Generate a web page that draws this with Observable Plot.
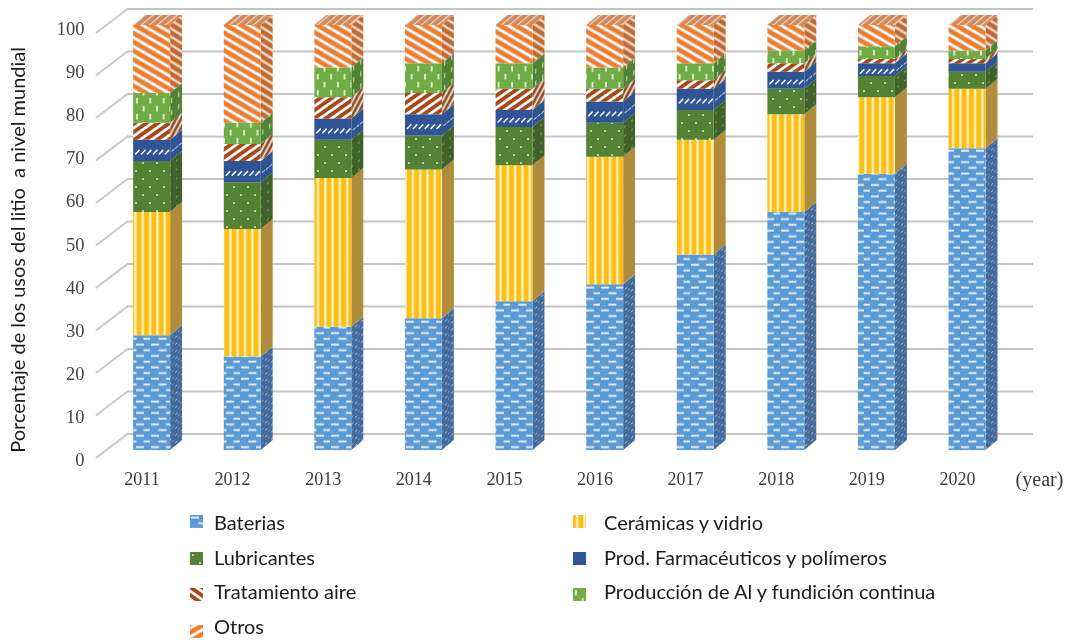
<!DOCTYPE html>
<html><head><meta charset="utf-8">
<style>
html,body{margin:0;padding:0;background:#fff;overflow:hidden}
#wrap{position:relative;width:1068px;height:643px}
#chart{position:absolute;left:0;top:0}
#chart svg{filter:blur(.5px);display:block}
.lg{position:absolute;font:20px Lato,"Open Sans",sans-serif;color:#1c1c1c;line-height:22px;white-space:nowrap;filter:blur(.25px)}
.lg svg{position:absolute}
</style>
<script src="https://cdn.jsdelivr.net/npm/d3@7"></script>
<script src="https://cdn.jsdelivr.net/npm/@observablehq/plot@0.6"></script>
</head><body><div id="wrap"><div id="chart"></div></div>
<script>
const years = [2011,2012,2013,2014,2015,2016,2017,2018,2019,2020];
const baterias     = [27,22,29,31,35,39,46,56,65,71];
const ceramicas    = [29,30,35,35,32,30,27,23,18,14];
const lubricantes  = [12,11, 9, 8, 9, 8, 7, 6, 5, 4];
const farmaceutico = [ 5, 5, 5, 5, 4, 5, 5, 4, 3, 2];
const tratamiento  = [ 4, 4, 5, 5, 5, 3, 2, 2, 1, 1];
const produccion   = [ 7, 5, 7, 7, 6, 5, 4, 3, 3, 2];
const otros        = [16,23,10, 9, 9,10, 9, 6, 5, 6];
const seriesNames = ["Baterias","Cerámicas y vidrio","Lubricantes","Prod. Farmacéuticos y polímeros","Tratamiento aire","Producción de Al y fundición continua","Otros"];
const seriesValues = [baterias,ceramicas,lubricantes,farmaceutico,tratamiento,produccion,otros];
const yTicks = [0,10,20,30,40,50,60,70,80,90,100];

const frontColors = ["#5b9bd5","#fbbf17","#548235","#2f5597","#a5491c","#70ad47","#ed7d31"];
const sideColors  = ["#41699a","#b08d3c","#3f6229","#2f5590","#8a4a22","#4f8233","#bf6a33"];

// Pattern tiles
const ink = "#ffffff";
const tiles = [
  (c)=>`<rect width="30" height="11.4" fill="${c}"/><g fill="${ink}" opacity=".85"><rect x="1" y="1.6" width="8" height="1.9"/><rect x="16" y="1.6" width="8" height="1.9"/><rect x="8.5" y="7.3" width="8" height="1.9"/><rect x="23.5" y="7.3" width="6.5" height="1.9"/></g>`,
  (c)=>`<rect width="7.3" height="10" fill="${c}"/><rect x="3" width="2.2" height="10" fill="#fff3c4"/>`,
  (c)=>`<rect width="14" height="16" fill="${c}"/><g fill="#dcebcd"><circle cx="3" cy="3" r="1.05"/><circle cx="10" cy="11" r="1.05"/></g>`,
  (c)=>`<rect width="8" height="8" fill="${c}"/>`,
  (c)=>`<rect width="8" height="6.6" fill="${c}"/><rect y="2" width="8" height="2.7" fill="${ink}"/>`,
  (c)=>`<rect width="13.4" height="16" fill="${c}"/><g fill="#e3f1d8"><rect x="2" y="2" width="1.8" height="5.5"/><rect x="8.7" y="10" width="1.8" height="5.5"/></g>`,
  (c)=>`<rect width="10" height="7.6" fill="${c}"/><rect y="2.4" width="10" height="2.8" fill="${ink}"/>`
];
const tileSizes = [[30,11.4],[7.3,10],[14,16],[8,8],[8,6.6],[13.4,16],[10,7.6]];
const frontTransforms = ["","","","","rotate(-35)","","rotate(30)"];
const sideTiles = [
  (c)=>`<rect width="6" height="7" fill="${c}"/><rect x="1" y="1" width="2.2" height="1.2" fill="#c9dcef" opacity=".75"/><rect x="4" y="4.5" width="1.6" height="1.2" fill="#c9dcef" opacity=".6"/>`,
  (c)=>`<rect width="6" height="6" fill="${c}"/>`,
  (c)=>`<rect width="7" height="9" fill="${c}"/><circle cx="2" cy="3" r=".75" fill="#a9c492"/>`,
  (c)=>`<rect width="6" height="6" fill="${c}"/>`,
  (c)=>`<rect width="6" height="4.4" fill="${c}"/><rect y="1.4" width="6" height="1.7" fill="#f5ece4"/>`,
  (c)=>`<rect width="7" height="12" fill="${c}"/><rect x="3" y="2" width="1.4" height="5" fill="#b9d4a5"/>`,
  (c)=>`<rect width="6" height="7" fill="${c}"/><rect y="2.4" width="6" height="2.2" fill="#f7e3d5"/>`
];
const sideSizes = [[6,7],[6,6],[7,9],[6,6],[6,4.4],[7,12],[6,7]];
const sideTransforms = ["skewY(-40)","skewY(-40)","skewY(-40)","skewY(-40)","rotate(-62)","skewY(-40)","rotate(32)"];

let defs = "";
seriesNames.forEach((_,i)=>{
  const [w,h]=tileSizes[i], [sw,sh]=sideSizes[i];
  defs += `<pattern id="f${i}" patternUnits="userSpaceOnUse" width="${w}" height="${h}" ${frontTransforms[i]?`patternTransform="${frontTransforms[i]}"`:""}>${tiles[i](frontColors[i])}</pattern>`;
  defs += `<pattern id="s${i}" patternUnits="userSpaceOnUse" width="${sw}" height="${sh}" patternTransform="${sideTransforms[i]}">${sideTiles[i](sideColors[i])}</pattern>`;
});
defs += `<pattern id="top" patternUnits="userSpaceOnUse" width="8" height="5" patternTransform="skewX(-50)"><rect width="8" height="5" fill="#cf8a5e"/><rect x="2" width="2.4" height="5" fill="#efc9ad"/></pattern>`;
const holder = document.createElementNS("http://www.w3.org/2000/svg","svg");
holder.setAttribute("style","position:absolute;width:0;height:0");
holder.innerHTML = `<defs>${defs}</defs>`;
document.body.appendChild(holder);

// Geometry in scale units: x in years, y in percent
const barLeft = -0.092, barW = 0.408, depthX = 0.132, depthY = 2.35;
const backY = 3.9, backX0 = 2011 - (141.5-127)/90.6, frontX0 = 2011 - (141.5-96)/90.6, frontY = -1.65, gridEnd = 2011 + (1033-141.5)/90.6;

const segments = [];
years.forEach((yr,j)=>{
  let c = 0;
  seriesValues.forEach((vals,i)=>{
    segments.push({year:yr, s:i, y0:c, y1:c+vals[j], x0:yr+barLeft, x1:yr+barLeft+barW});
    c += vals[j];
  });
});
const sidePts = segments.flatMap(d=>[
  {s:d.s,k:d.year,x:d.x1,a:d.y0,b:d.y1},
  {s:d.s,k:d.year,x:d.x1+depthX,a:d.y0+depthY,b:d.y1+depthY}
]);
const topPts = years.flatMap(yr=>[
  {k:yr,y:100,a:yr+barLeft,b:yr+barLeft+barW},
  {k:yr,y:100+depthY,a:yr+barLeft+depthX,b:yr+barLeft+barW+depthX}
]);
const diag = yTicks.flatMap(v=>[{k:v,x:frontX0,y:v+frontY},{k:v,x:backX0,y:v+backY}]);
// the row of small slanted dashes in each Farmacéuticos block (none in the thinnest block)
const slots = [0.1,0.26,0.42,0.58,0.74,0.9];
const farmBlocks = segments.filter(d=>d.s===3 && d.y1-d.y0>=3);
const farmDashes = farmBlocks.flatMap(d=>slots.map(t=>({x:d.x0+t*barW,y:(d.y0+d.y1)/2-0.3})));
const farmSide = farmBlocks.flatMap(d=>[0.2,0.5,0.8].map(t=>({x:d.x1+t*depthX,y:(d.y0+d.y1)/2+t*depthY-0.3})));

const marks = [];
marks.push(Plot.ruleY(yTicks,{y:d=>d+backY,x1:backX0,x2:gridEnd,stroke:"#c4c4c4",strokeWidth:2}));
marks.push(Plot.line(diag,{x:"x",y:"y",z:"k",stroke:"#c8c8c8",strokeWidth:2}));
seriesNames.forEach((_,i)=>{
  marks.push(Plot.areaY(sidePts.filter(d=>d.s===i),{x:"x",y1:"a",y2:"b",z:"k",fill:`url(#s${i})`}));
  marks.push(Plot.rect(segments.filter(d=>d.s===i),{x1:"x0",x2:"x1",y1:"y0",y2:"y1",fill:`url(#f${i})`}));
});
marks.push(Plot.vector(farmDashes,{x:"x",y:"y",length:5,rotate:45,anchor:"middle",shape:{draw(c,l){c.moveTo(0,0);c.lineTo(0,-l);}},stroke:"#fff",strokeWidth:1.5}));
marks.push(Plot.vector(farmSide,{x:"x",y:"y",length:3,rotate:45,anchor:"middle",shape:{draw(c,l){c.moveTo(0,0);c.lineTo(0,-l);}},stroke:"#b9c8e6",strokeWidth:1}));
marks.push(Plot.areaX(topPts,{y:"y",x1:"a",x2:"b",z:"k",fill:"url(#top)"}));
const serif = "'Liberation Serif','Times New Roman',serif";
marks.push(Plot.text(yTicks,{x:2011-(141.5-84)/90.6,y:d=>d*1.015-2.3,text:d=>String(d),textAnchor:"end",fontFamily:serif,fontSize:18.5,fill:"#444"}));
marks.push(Plot.text(years,{x:d=>d,y:-6.8,text:d=>String(d),fontFamily:serif,fontSize:18,fill:"#3a3a3a"}));
marks.push(Plot.text(["(year)"],{x:2020.906,y:-6.8,text:d=>d,fontFamily:serif,fontSize:20,fill:"#3a3a3a"}));
marks.push(Plot.text(["Porcentaje de los usos del litio\u00a0\u00a0a nivel mundial"],{x:2011-(141.5-18)/90.6,y:47.2,text:d=>d,rotate:-90,fontFamily:"Lato,'Open Sans',sans-serif",fontSize:20,fill:"#1c1c1c"}));

const chart = Plot.plot({
  width:1068,height:500,
  marginLeft:0,marginRight:0,marginTop:25,marginBottom:50,
  x:{type:"linear",domain:[2011-141.5/90.6,2011+(1068-141.5)/90.6],axis:null},
  y:{type:"linear",domain:[0,100],axis:null},
  style:{background:"transparent",overflow:"visible"},
  marks
});
document.getElementById("chart").appendChild(chart);

// Legend
const legendPos = [[214,511],[604,511],[214,546],[604,546],[214,580],[604,580],[214,615]];
const swatchY = [515,515,552,552,588,588,625];
const swatchX = [190,573,190,573,190,573,190];
const swatchFlip = [false,false,false,false,true,false,true];
const wrap = document.getElementById("wrap");
seriesNames.forEach((n,i)=>{
  const d = document.createElement("div");
  d.className="lg";
  d.style.left=legendPos[i][0]+"px";
  d.style.top=legendPos[i][1]+"px";
  d.textContent=n;
  const sw = document.createElementNS("http://www.w3.org/2000/svg","svg");
  sw.setAttribute("width",13);sw.setAttribute("height",13);
  sw.style.left=(swatchX[i]-legendPos[i][0])+"px";
  sw.style.top=(swatchY[i]-legendPos[i][1])+"px";
  if(swatchFlip[i]) sw.style.transform="scaleX(-1)";
  sw.innerHTML=`<rect width="13" height="13" fill="url(#f${i})"/>`;
  d.appendChild(sw);
  wrap.appendChild(d);
});
</script></body></html>
